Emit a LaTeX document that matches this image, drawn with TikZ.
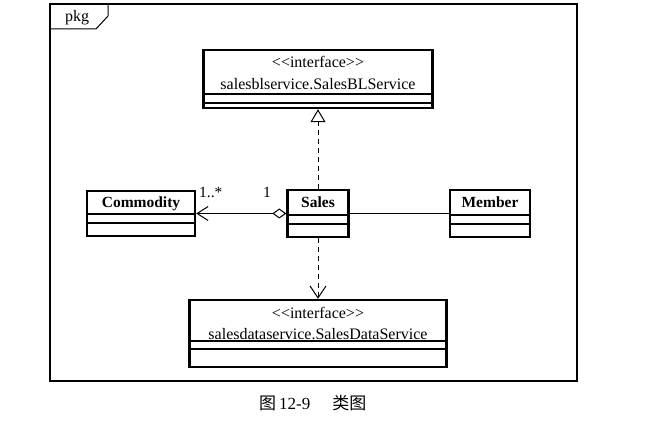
\documentclass[tikz,border=0pt]{standalone}
\usepackage{fontspec}
\setmainfont[Ligatures=NoCommon]{Liberation Serif}
\newfontfamily\cjk{Noto Sans CJK SC}
\usetikzlibrary{arrows.meta}
\begin{document}
\begin{tikzpicture}[x=1pt,y=-1pt,
 classbox/.style={draw, line width=2.4pt, inner sep=0pt},
 sepline/.style={line width=1.1pt},
 txt/.style={font=\fontsize{16}{18}\selectfont, inner sep=0pt, anchor=base},
 cname/.style={font=\fontsize{15.5}{17}\selectfont\bfseries, inner sep=0pt, anchor=base},
 conn/.style={line width=1pt},
 dashedconn/.style={line width=1pt, dash pattern=on 5pt off 4pt},
 mult/.style={font=\fontsize{15.5}{17}\selectfont, inner sep=0pt, anchor=base}]
\useasboundingbox (0,0) rectangle (666,446);
% package frame
\draw[line width=1.2pt] (50,4) rectangle (577,381);
\draw[line width=1pt] (50,29) -- (96,29) -- (108,16) -- (108,4);
\node[txt] (pkg) at (77,22) {pkg};
% classes
\node[classbox, minimum width=229pt, minimum height=58pt] (bl) at (318,79) {};
\node[txt] (blst) at (318,68) {<{}<interface>{}>};
\node[txt] (blname) at (318,90) {salesblservice.SalesBLService};
\draw[sepline] (204,94) -- (432,94);
\draw[sepline] (204,103) -- (432,103);

\node[classbox, minimum width=108pt, minimum height=45pt] (comm) at (141,213.5) {};
\node[cname] (commname) at (141,208) {Commodity};
\draw[sepline] (87,214) -- (195,214);
\draw[sepline] (87,223) -- (195,223);

\node[classbox, minimum width=61pt, minimum height=47pt] (sales) at (318,213.5) {};
\node[cname] (salesname) at (318,208) {Sales};
\draw[sepline] (288,215) -- (348,215);
\draw[sepline] (288,224) -- (348,224);

\node[classbox, minimum width=80pt, minimum height=47pt] (member) at (490,213.5) {};
\node[cname] (membername) at (490,208) {Member};
\draw[sepline] (450,215) -- (530,215);
\draw[sepline] (450,224) -- (530,224);

\node[classbox, minimum width=257pt, minimum height=67pt] (data) at (318,333.5) {};
\node[txt] (datast) at (318,318) {<{}<interface>{}>};
\node[txt] (dataname) at (318,339) {salesdataservice.SalesDataService};
\draw[sepline] (190,341) -- (447,341);
\draw[sepline] (190,349) -- (447,349);

% connectors
\draw[dashedconn, -{Triangle[open, length=13pt, width=15pt]}] (sales.north) -- (bl.south);
\draw[dashedconn, -{Straight Barb[length=12pt, width=16pt]}] (sales.south) -- (data.north);
\draw[conn, {Diamond[open, length=14pt, width=10pt]}-{Straight Barb[length=11pt, width=14pt]}] (sales.west) -- (comm.east);
\draw[conn] (sales.east) -- (member.west);
\node[mult, anchor=base west] (m1) at (199,198) {1..*};
\node[mult] (m2) at (267,198) {1};

% caption
\node[anchor=base west, inner sep=0pt, font=\fontsize{17}{19}\selectfont] (cap) at (259,409) {{\cjk 图}\hspace{3pt}12-9\hspace{22pt}{\cjk 类图}};
\end{tikzpicture}
\end{document}
